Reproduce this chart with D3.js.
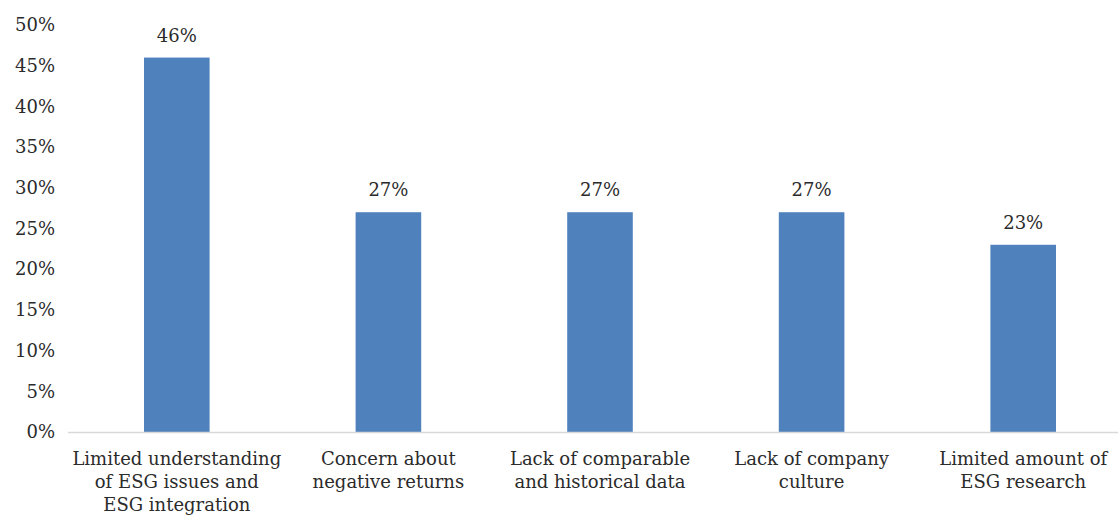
<!DOCTYPE html>
<html>
<head>
<meta charset="utf-8">
<script src="https://cdn.jsdelivr.net/npm/d3@7"></script>
<style>
  body { margin: 0; background: #fff; }
</style>
</head>
<body>
<div id="chart"></div>
<script>
// barriers to ESG integration, share of respondents
var categories = ["Limited understanding of ESG issues and ESG integration",
  "Concern about negative returns",
  "Lack of comparable and historical data",
  "Lack of company culture",
  "Limited amount of ESG research"];
var catLines = [
  ["Limited understanding", "of ESG issues and", "ESG integration"],
  ["Concern about", "negative returns"],
  ["Lack of comparable", "and historical data"],
  ["Lack of company", "culture"],
  ["Limited amount of", "ESG research"]
];
var values = [46, 27, 27, 27, 23];
var yTicks = [0, 5, 10, 15, 20, 25, 30, 35, 40, 45, 50];

var width = 1118, height = 520;
var margin = {top: 25, right: -11, bottom: 88, left: 71};
// Liberation Serif is not picked up here, DejaVu Serif is the serif we get
var serif = "DejaVu Serif";

var svg = d3.select("#chart").append("svg")
    .attr("width", width)
    .attr("height", height);

var x = d3.scaleBand()
    .domain(categories)
    .range([margin.left, width - margin.right])
    .paddingInner(0.69)
    .paddingOuter(0.345);

var y = d3.scaleLinear()
    .domain([0, 50])
    .range([height - margin.bottom, margin.top]);

// y tick labels, no axis line
var yAxis = svg.append("g")
    .attr("transform", "translate(" + margin.left + ",0)")
    .call(d3.axisLeft(y).tickValues(yTicks).tickSize(0).tickPadding(16)
      .tickFormat(function(d) { return d + "%"; }));
yAxis.select(".domain").remove();
yAxis.attr("font-family", serif);
yAxis.selectAll("text")
    .attr("font-size", 18)
    .attr("fill", "#2b2b2b");

// bars
svg.append("g")
  .selectAll("rect")
  .data(values)
  .enter()
  .append("rect")
    .attr("x", function(d, i) { return x(categories[i]); })
    .attr("y", function(d) { return y(d); })
    .attr("width", x.bandwidth())
    .attr("height", function(d) { return y(0) - y(d); })
    .attr("fill", "#4f81bd");

// baseline
svg.append("line")
    .attr("x1", 68)
    .attr("x2", width)
    .attr("y1", y(0) + 0.5)
    .attr("y2", y(0) + 0.5)
    .attr("stroke", "#d9d9d9")
    .attr("stroke-width", 1.5);

// value labels
svg.append("g")
  .selectAll("text")
  .data(values)
  .enter()
  .append("text")
    .attr("x", function(d, i) { return x(categories[i]) + x.bandwidth() / 2; })
    .attr("y", function(d) { return y(d) - 16; })
    .attr("text-anchor", "middle")
    .attr("fill", "#2b2b2b")
    .attr("font-family", serif)
    .attr("font-size", 18)
    .text(function(d) { return d + "%"; });

// category labels
var cat = svg.append("g")
  .selectAll("text")
  .data(catLines)
  .enter()
  .append("text")
    .attr("text-anchor", "middle")
    .attr("fill", "#2b2b2b")
    .attr("transform", function(d, i) {
      return "translate(" + (x(categories[i]) + x.bandwidth() / 2) + "," + (y(0) + 33) + ")";
    })
    .attr("font-family", serif)
    .attr("font-size", 18);

cat.selectAll("tspan")
  .data(function(d) { return d; })
  .enter()
  .append("tspan")
    .attr("x", 0)
    .attr("y", function(d, i) { return i * 23; })
    .text(function(d) { return d; });
</script>
</body>
</html>
